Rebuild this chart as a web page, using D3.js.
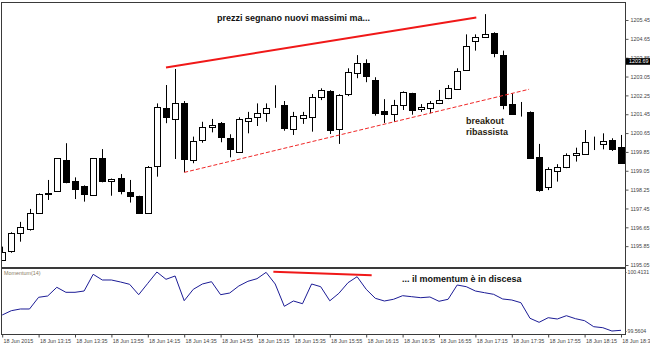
<!DOCTYPE html>
<html>
<head>
<meta charset="utf-8">
<script src="https://cdn.jsdelivr.net/npm/d3@7/dist/d3.min.js"></script>
<style>
  html, body { margin: 0; padding: 0; background: #fff; }
  svg { display: block; }
</style>
</head>
<body>
<svg id="chart" width="650" height="345"></svg>
<script>
// 5-minute bars, 18 Jun 2015
const times = [
  "12:55","13:00","13:05","13:10","13:15","13:20","13:25","13:30","13:35","13:40",
  "13:45","13:50","13:55","14:00","14:05","14:10","14:15","14:20","14:25","14:30",
  "14:35","14:40","14:45","14:50","14:55","15:00","15:05","15:10","15:15","15:20",
  "15:25","15:30","15:35","15:40","15:45","15:50","15:55","16:00","16:05","16:10",
  "16:15","16:20","16:25","16:30","16:35","16:40","16:45","16:50","16:55","17:00",
  "17:05","17:10","17:15","17:20","17:25","17:30","17:35","17:40","17:45","17:50",
  "17:55","18:00","18:05","18:10","18:15","18:20","18:25","18:30","18:35"
];

const open = [
  1195.29,1195.62,1196.40,1196.59,1197.25,1198.03,1198.18,1199.51,1198.60,1198.39,
  1197.99,1199.61,1198.62,1198.73,1198.14,1197.98,1197.25,1199.22,1201.73,1201.28,
  1201.91,1199.51,1200.36,1200.90,1201.07,1200.44,1199.86,1201.18,1201.32,1201.53,
  1201.76,1201.83,1200.81,1201.28,1201.32,1202.17,1202.45,1200.81,1202.30,1203.19,
  1203.61,1202.90,1201.57,1201.45,1201.82,1202.34,1201.65,1201.70,1201.91,1202.11,
  1202.55,1203.33,1204.57,1204.73,1204.91,1203.96,1201.88,1201.46,1201.55,1199.65,
  1198.35,1199.05,1199.18,1199.72,1199.79,1200.26,1200.19,1200.36,1200.05
];
const high = [
  1195.83,1196.44,1196.88,1197.43,1198.09,1198.66,1199.58,1200.22,1198.77,1198.43,
  1199.58,1199.97,1198.72,1198.91,1198.66,1197.99,1199.25,1201.91,1202.69,1203.37,
  1202.01,1200.50,1201.13,1201.25,1201.12,1200.60,1201.32,1201.55,1201.91,1201.91,
  1202.68,1202.01,1201.55,1201.55,1202.31,1202.55,1202.47,1202.30,1203.40,1203.96,
  1203.78,1203.02,1202.09,1202.06,1202.42,1202.36,1201.88,1202.01,1202.48,1202.69,
  1203.40,1204.84,1204.84,1205.70,1204.93,1204.15,1202.34,1201.97,1201.57,1200.19,
  1199.20,1199.33,1199.79,1200.03,1200.78,1200.50,1200.64,1200.43,1200.57
];
const low = [
  1195.29,1195.57,1196.04,1196.51,1197.22,1197.81,1198.18,1198.52,1197.85,1197.74,
  1197.99,1198.56,1197.99,1198.05,1197.70,1197.23,1197.23,1198.80,1201.07,1199.55,
  1198.99,1199.37,1200.24,1200.68,1200.26,1199.62,1199.84,1200.64,1200.95,1201.13,
  1201.72,1200.75,1200.57,1201.04,1200.71,1202.05,1200.61,1200.19,1202.22,1202.98,
  1202.81,1201.39,1201.08,1201.13,1201.63,1201.43,1201.55,1201.49,1201.88,1202.09,
  1202.55,1203.30,1204.15,1204.72,1203.87,1201.66,1201.44,1201.35,1199.57,1198.16,
  1198.23,1198.59,1199.16,1199.44,1199.72,1199.93,1199.96,1199.89,1199.37
];
const close = [
  1195.62,1196.40,1196.65,1197.25,1198.05,1198.09,1199.58,1198.56,1198.26,1198.05,
  1199.58,1198.62,1198.70,1198.16,1197.99,1197.27,1199.20,1201.74,1201.35,1201.94,
  1199.55,1200.33,1200.92,1200.99,1200.47,1199.96,1201.25,1201.29,1201.49,1201.73,
  1201.78,1200.84,1201.36,1201.42,1202.17,1202.48,1200.79,1202.25,1203.24,1203.61,
  1203.04,1201.52,1201.45,1201.83,1202.38,1201.63,1201.74,1201.91,1202.05,1202.55,
  1203.30,1204.35,1204.72,1204.86,1204.04,1201.85,1201.46,1201.46,1199.59,1198.23,
  1199.13,1199.22,1199.71,1199.79,1200.28,1200.27,1200.31,1199.97,1199.37
];

// Momentum(14)
const momentum = [
  99.7916,99.8538,99.8784,99.8784,100.0475,100.0663,100.1920,100.1197,100.1197,100.1385,
  100.3799,100.2975,100.2975,100.2686,100.2354,100.0850,100.2498,100.4131,100.3076,100.3553,
  99.9983,100.1631,100.2397,100.2729,100.0850,100.1096,100.2108,100.2787,100.3163,100.4080,
  100.2397,99.9174,99.9940,99.9550,100.2397,100.2007,99.9969,100.1053,100.2585,100.3452,
  100.1631,100.0330,99.9940,100.0186,100.0706,100.0561,100.0417,100.0518,99.9897,100.0186,
  100.2252,100.2007,100.1385,100.1139,100.0908,100.0229,100.0084,99.9694,99.7440,99.6861,
  99.7526,99.7338,99.7815,99.7382,99.7093,99.6225,99.6081,99.5604,99.5705
];

const priceTicks = [1195.05,1195.85,1196.65,1197.45,1198.25,1199.05,1199.85,
                    1200.65,1201.45,1202.25,1203.05,1203.85,1204.65,1205.45];
const momentumTicks = [99.5604, 100.4131];
const timeTicks = ["12:55","13:15","13:35","13:55","14:15","14:35","14:55","15:15","15:35",
                   "15:55","16:15","16:35","16:55","17:15","17:35","17:55","18:15","18:35"];
const timeTickLabels = ["18 Jun 2015","18 Jun 13:15","18 Jun 13:35","18 Jun 13:55","18 Jun 14:15",
                        "18 Jun 14:35","18 Jun 14:55","18 Jun 15:15","18 Jun 15:35","18 Jun 15:55",
                        "18 Jun 16:15","18 Jun 16:35","18 Jun 16:55","18 Jun 17:15","18 Jun 17:35",
                        "18 Jun 17:55","18 Jun 18:15","18 Jun 18:35"];
const lastPrice = 1203.69;

// Trend lines as [bar index, value] pairs
const highsLine = [[18, 1203.43], [52.1, 1205.56]];
const lowsLine = [[20, 1198.98], [57.9, 1202.51]];
const momentumLine = [[29.8, 100.4175], [40.6, 100.3655]];

// ---- layout ----
const plotL = 1.5, plotR = 625.5, plotT = 2.5, mainB = 267.5, momT = 268.5, momB = 334.5;
const labelFont = "'Liberation Sans', Arial, sans-serif";

const svg = d3.select("#chart");

const x = d3.scaleLinear().domain([0, times.length - 1]).range([2.2, 621]);
const yP = d3.scaleLinear().domain([1195.05, 1205.45]).range([265, 20]);
const yM = d3.scaleLinear().domain([99.5604, 100.4131]).range([331, 272]);
const idx = d3.range(times.length);

const defs = svg.append("defs");
defs.append("clipPath").attr("id", "mainClip")
  .append("rect").attr("x", 2).attr("y", 3).attr("width", plotR - 2.5).attr("height", mainB - 3.5);
defs.append("clipPath").attr("id", "momClip")
  .append("rect").attr("x", 2).attr("y", momT + 0.5).attr("width", plotR - 2.5).attr("height", momB - momT - 1);

// ---- frames ----
svg.append("rect").attr("x", plotL).attr("y", plotT)
  .attr("width", plotR - plotL).attr("height", mainB - plotT)
  .attr("fill", "none").attr("stroke", "#3a3a3a");
svg.append("rect").attr("x", plotL).attr("y", momT)
  .attr("width", plotR - plotL).attr("height", momB - momT)
  .attr("fill", "none").attr("stroke", "#3a3a3a");

// ---- candles ----
const cg = svg.append("g").attr("clip-path", "url(#mainClip)");
const cx = i => Math.round(x(i));

cg.selectAll("line.wick").data(idx).join("line")
  .attr("class", "wick")
  .attr("x1", i => cx(i) + 0.5).attr("x2", i => cx(i) + 0.5)
  .attr("y1", i => yP(high[i])).attr("y2", i => yP(low[i]))
  .attr("stroke", "#000").attr("stroke-width", 1);

cg.selectAll("rect.body").data(idx).join("rect")
  .attr("class", "body")
  .attr("x", i => cx(i) - 2.5)
  .attr("width", 6)
  .attr("y", i => Math.round(yP(Math.max(open[i], close[i]))) + 0.5)
  .attr("height", i => Math.max(0, Math.round(Math.abs(yP(open[i]) - yP(close[i])))))
  .attr("fill", i => close[i] >= open[i] ? "#fff" : "#000")
  .attr("stroke", "#000").attr("stroke-width", 1);

// ---- trend lines on price ----
const lineGen = (ys) => d3.line().x(d => x(d[0])).y(d => ys(d[1]));
cg.append("path").datum(highsLine)
  .attr("d", lineGen(yP)).attr("stroke", "#f01818").attr("stroke-width", 2).attr("fill", "none");
cg.append("path").datum(lowsLine)
  .attr("d", lineGen(yP)).attr("stroke", "#f02828").attr("stroke-width", 1)
  .attr("stroke-dasharray", "4 2").attr("fill", "none");

// ---- momentum ----
const mg = svg.append("g").attr("clip-path", "url(#momClip)");
mg.append("path").datum(idx)
  .attr("d", d3.line().x(i => x(i)).y(i => yM(momentum[i])))
  .attr("fill", "none").attr("stroke", "#1c1c96").attr("stroke-width", 1);
mg.append("path").datum(momentumLine)
  .attr("d", lineGen(yM)).attr("stroke", "#f01818").attr("stroke-width", 2).attr("fill", "none");

// ---- price axis ----
const priceAxis = svg.append("g").attr("transform", `translate(${plotR},0)`)
  .call(d3.axisRight(yP).tickValues(priceTicks).tickSize(3).tickPadding(2).tickFormat(d3.format(".2f")));
priceAxis.select(".domain").remove();
priceAxis.selectAll("line").attr("stroke", "#555");
priceAxis.selectAll("text").attr("font-family", labelFont).attr("font-size", 5.4).attr("fill", "#444");

// last price marker
const lp = svg.append("g").attr("transform", `translate(626,${yP(lastPrice)})`);
lp.append("rect").attr("x", 0).attr("y", -3.3).attr("width", 24).attr("height", 6.6).attr("fill", "#000");
lp.append("text").attr("x", 3).attr("y", 0).attr("dy", "0.35em")
  .attr("font-family", labelFont).attr("font-size", 5.4).attr("fill", "#fff")
  .text(d3.format(".2f")(lastPrice));

// ---- momentum axis ----
const momAxis = svg.append("g").attr("transform", `translate(${plotR},0)`)
  .call(d3.axisRight(yM).tickValues(momentumTicks).tickSize(1).tickPadding(1).tickFormat(d3.format(".4f")));
momAxis.select(".domain").remove();
momAxis.selectAll("line").attr("stroke", "#555");
momAxis.selectAll("text").attr("font-family", labelFont).attr("font-size", 5.2).attr("fill", "#444");

// ---- time axis ----
const tAxis = svg.append("g").attr("transform", `translate(0,${momB})`)
  .call(d3.axisBottom(x)
    .tickValues(timeTicks.map(t => times.indexOf(t)))
    .tickSize(3).tickPadding(2)
    .tickFormat((d, k) => timeTickLabels[k]));
tAxis.select(".domain").remove();
tAxis.selectAll("line").attr("stroke", "#444");
tAxis.selectAll("text").attr("font-family", labelFont).attr("font-size", 5.4).attr("fill", "#444")
  .attr("text-anchor", "start").attr("dx", "0.15em");

// ---- labels ----
svg.append("text").attr("x", 4).attr("y", 275)
  .attr("font-family", labelFont).attr("font-size", 5.4).attr("fill", "#8a7d66")
  .text("Momentum(14)");

const note = (tx, ty, str, col) => svg.append("text").attr("x", tx).attr("y", ty)
  .attr("font-family", labelFont).attr("font-size", 9).attr("font-weight", "bold")
  .attr("fill", col).text(str);
note(217, 21, "prezzi segnano nuovi massimi ma...", "#111");
note(402, 282, "... il momentum è in discesa", "#111");
note(466, 124, "breakout", "#2a1c10");
note(466, 134.5, "ribassista", "#2a1c10");
</script>
</body>
</html>
